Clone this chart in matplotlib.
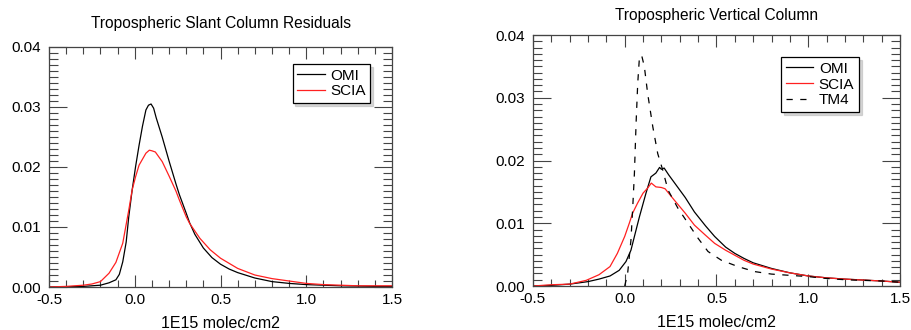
import numpy as np
import matplotlib
matplotlib.use("Agg")
import matplotlib.pyplot as plt
from matplotlib.ticker import MultipleLocator

plt.rcParams['font.family'] = ['Liberation Sans', 'DejaVu Sans']

# Left panel: tropospheric slant column residuals
slant_omi_x = [-0.5, -0.4, -0.3, -0.25, -0.2, -0.15, -0.11, -0.09, -0.07, -0.05, -0.035, -0.015,
               0.005, 0.025, 0.045, 0.065, 0.08, 0.095, 0.11, 0.125, 0.16, 0.2, 0.24, 0.26, 0.3,
               0.32, 0.35, 0.4, 0.45, 0.5, 0.55, 0.6, 0.7, 0.8, 0.9, 1.0, 1.1, 1.2, 1.3, 1.4, 1.5]
slant_omi_y = [0.0, 0.00005, 0.0001, 0.0002, 0.0003, 0.0007, 0.0012, 0.0021, 0.0042, 0.0075, 0.0117,
               0.0162, 0.0201, 0.0236, 0.0268, 0.0295, 0.0303, 0.0305, 0.0298, 0.0282, 0.025, 0.021,
               0.0172, 0.0154, 0.0123, 0.0107, 0.0088, 0.0065, 0.0049, 0.0038, 0.003, 0.0024, 0.0015,
               0.0009, 0.0006, 0.0004, 0.0003, 0.0002, 0.00015, 0.0001, 0.0001]

slant_scia_x = [-0.5, -0.4, -0.3, -0.25, -0.2, -0.15, -0.11, -0.07, -0.035, -0.015, 0.005, 0.025,
                0.045, 0.065, 0.085, 0.1, 0.12, 0.16, 0.2, 0.24, 0.26, 0.3, 0.32, 0.38, 0.44, 0.5,
                0.6, 0.7, 0.8, 0.9, 1.0, 1.1, 1.2, 1.3, 1.4, 1.5]
slant_scia_y = [0.0, 0.0001, 0.0003, 0.0005, 0.0009, 0.0023, 0.0041, 0.0073, 0.0128, 0.0162, 0.0184,
                0.0203, 0.0213, 0.0223, 0.0228, 0.0227, 0.0225, 0.0209, 0.0185, 0.016, 0.0145, 0.0117,
                0.0106, 0.0081, 0.0062, 0.0048, 0.0031, 0.002, 0.0014, 0.001, 0.0006, 0.0004, 0.0003,
                0.0002, 0.0002, 0.0002]

# Right panel: tropospheric vertical column
vert_omi_x = [-0.5, -0.4, -0.3, -0.2, -0.14, -0.08, -0.03, 0.007, 0.034, 0.053, 0.08, 0.116, 0.143,
              0.17, 0.19, 0.2, 0.215, 0.24, 0.27, 0.3, 0.33, 0.38, 0.44, 0.49, 0.55, 0.6, 0.65, 0.7,
              0.8, 0.9, 1.0, 1.1, 1.2, 1.3, 1.4, 1.5]
vert_omi_y = [0.0, 0.0001, 0.0003, 0.0007, 0.0011, 0.0016, 0.0025, 0.0039, 0.0057, 0.0079, 0.011,
              0.0148, 0.0174, 0.018, 0.0189, 0.0186, 0.0188, 0.0177, 0.0165, 0.0153, 0.0141, 0.0118,
              0.0096, 0.0079, 0.0062, 0.0052, 0.0044, 0.0037, 0.0028, 0.0021, 0.0016, 0.0013, 0.0011,
              0.00095, 0.0008, 0.0006]

vert_scia_x = [-0.5, -0.4, -0.3, -0.21, -0.14, -0.08, -0.04, 0.0, 0.025, 0.043, 0.07, 0.1, 0.125,
               0.145, 0.17, 0.2, 0.22, 0.27, 0.33, 0.38, 0.44, 0.49, 0.55, 0.6, 0.65, 0.7, 0.8, 0.9,
               1.0, 1.1, 1.2, 1.3, 1.4, 1.5]
vert_scia_y = [0.0, 0.0002, 0.0003, 0.0009, 0.0018, 0.0031, 0.0052, 0.0079, 0.01, 0.0116, 0.0132,
               0.0148, 0.0156, 0.0164, 0.0158, 0.0157, 0.0155, 0.0137, 0.0116, 0.0097, 0.0081, 0.0068,
               0.0057, 0.0049, 0.0041, 0.0035, 0.0027, 0.0021, 0.0016, 0.0013, 0.0011, 0.00095, 0.0008,
               0.0006]

vert_tm4_x = [0.0, 0.016, 0.034, 0.044, 0.053, 0.062, 0.071, 0.08, 0.092, 0.107, 0.125, 0.153, 0.18,
              0.207, 0.236, 0.29, 0.345, 0.4, 0.454, 0.527, 0.617, 0.708, 0.8, 0.9, 1.0, 1.1, 1.2,
              1.3, 1.4, 1.5]
vert_tm4_y = [0.0, 0.002, 0.0073, 0.0126, 0.018, 0.0259, 0.0323, 0.0363, 0.0368, 0.035, 0.0307,
              0.0254, 0.0211, 0.0185, 0.0153, 0.0124, 0.01, 0.0076, 0.0055, 0.0041, 0.0031, 0.0023,
              0.0019, 0.0017, 0.0015, 0.0012, 0.001, 0.0009, 0.0008, 0.0006]

xlabel = "1E15 molec/cm2"
fig = plt.figure(figsize=(9.11, 3.30), dpi=100)
ax1 = fig.add_axes([0.0538, 0.1303, 0.3765, 0.7273])
ax2 = fig.add_axes([0.585, 0.1333, 0.4029, 0.7606])


def style(ax, title, tpad):
    ax.set_xlim(-0.5, 1.5)
    ax.set_ylim(0, 0.04)
    ax.xaxis.set_major_locator(MultipleLocator(0.5))
    ax.xaxis.set_minor_locator(MultipleLocator(0.1))
    ax.yaxis.set_major_locator(MultipleLocator(0.01))
    ax.yaxis.set_minor_locator(MultipleLocator(0.001))
    ax.xaxis.set_major_formatter(lambda v, p: f"{v:.1f}")
    ax.yaxis.set_major_formatter(lambda v, p: f"{v:.2f}")
    ax.tick_params(which='both', direction='in', top=True, right=True, labelsize=11,
                   color='#444444')
    ax.tick_params(axis='x', which='major', length=8.5, width=0.8, pad=4)
    ax.tick_params(axis='x', which='minor', length=5, width=0.8)
    ax.tick_params(axis='y', which='major', length=13, width=0.8, pad=6)
    ax.tick_params(axis='y', which='minor', length=6.5, width=0.8)
    for s in ax.spines.values():
        s.set_color('#444444')
        s.set_linewidth(0.9)
    ax.set_xlabel(xlabel, fontsize=11.5, labelpad=6.5)
    ax.set_title(title, fontsize=11.2, pad=tpad)


ax1.plot(slant_omi_x, slant_omi_y, color='black', lw=0.9, label='OMI')
ax1.plot(slant_scia_x, slant_scia_y, color='#ff2020', lw=0.9, label='SCIA')
style(ax1, "Tropospheric Slant Column Residuals", 14)

ax2.plot(vert_omi_x, vert_omi_y, color='black', lw=0.9, label='OMI')
ax2.plot(vert_scia_x, vert_scia_y, color='#ff2020', lw=0.9, label='SCIA')
ax2.plot(vert_tm4_x, vert_tm4_y, color='black', lw=0.9, dashes=(5, 6), label='TM4')
style(ax2, "Tropospheric Vertical Column", 10.5)

for ax, anchor in ((ax1, (0.936, 0.929)), (ax2, (0.888, 0.912))):
    leg = ax.legend(loc='upper right', bbox_to_anchor=anchor, fontsize=11, frameon=True,
                    fancybox=False, edgecolor='black', handlelength=1.8, handletextpad=0.35,
                    labelspacing=0.12, borderpad=0.3, borderaxespad=0,
                    shadow={'color': '#bbbbbb', 'alpha': 0.6})
    leg.get_frame().set_linewidth(0.9)

fig.savefig("out.png", dpi=100)
